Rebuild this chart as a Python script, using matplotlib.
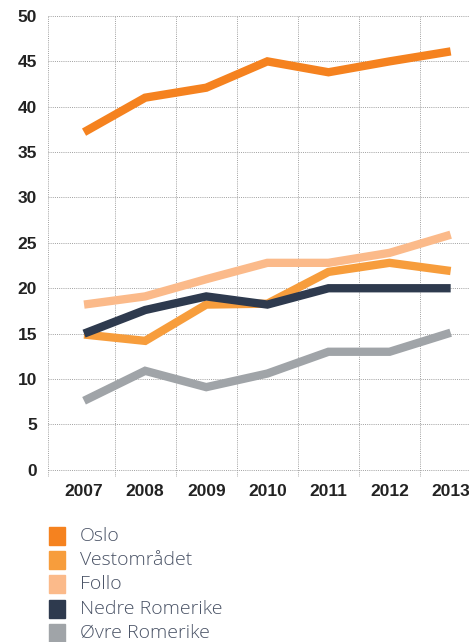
import numpy as np
import matplotlib.pyplot as plt
from matplotlib.patches import Rectangle

years = ["2007", "2008", "2009", "2010", "2011", "2012", "2013"]
names = ["Oslo", "Vestområdet", "Follo", "Nedre Romerike", "Øvre Romerike"]
colors = ["#F5821F", "#F79D3C", "#FBBA8A", "#2E3A4E", "#A0A4A8"]

oslo = [37.2, 41.0, 42.1, 45.0, 43.8, 45.0, 46.1]
vest = [14.9, 14.2, 18.2, 18.3, 21.8, 22.8, 21.9]
follo = [18.2, 19.1, 21.0, 22.8, 22.8, 23.9, 25.9]
nedre = [15.0, 17.6, 19.1, 18.2, 20.0, 20.0, 20.0]
ovre = [7.6, 10.9, 9.1, 10.6, 13.0, 13.0, 15.1]

series = [oslo, vest, follo, nedre, ovre]
draw_order = [4, 2, 1, 3, 0]

W, H = 469, 642
fig = plt.figure(figsize=(W / 100, H / 100), dpi=100)
ax = fig.add_axes([48 / W, (H - 477) / H, 1 - 48 / W, (477 - 16) / H])

x = np.arange(len(years))
for i in draw_order:
    ax.plot(x, series[i], color=colors[i], lw=6, solid_capstyle="butt",
            solid_joinstyle="miter", zorder=3)

ax.set_xlim(-0.59, 6.30)
ax.set_ylim(-0.8, 50)

# dotted grid, vertical lines sit between the years
grid_kw = dict(color="#a0a0a0", lw=0.7, ls=(0, (1, 1.2)), zorder=1)
for yv in range(0, 51, 5):
    ax.axhline(yv, **grid_kw)
for xv in np.append(-0.59, np.arange(0.5, 6, 1.0)):
    ax.axvline(xv, **grid_kw)

for s in ax.spines.values():
    s.set_visible(False)

ax.set_yticks(range(0, 51, 5))
ax.set_xticks(x)
ax.set_xticklabels(years)
ax.tick_params(length=0, labelsize=12.5, colors="#222222")
ax.tick_params(axis="x", pad=5)
ax.tick_params(axis="y", pad=8)
for lab in ax.get_xticklabels() + ax.get_yticklabels():
    lab.set_fontfamily("Liberation Sans")
    lab.set_fontweight("bold")

# legend
for i, (name, c) in enumerate(zip(names, colors)):
    yc = 536 + i * 24.2
    fig.patches.append(Rectangle((49 / W, (H - yc - 9) / H), 16 / W, 18 / H,
                                 transform=fig.transFigure, color=c))
    fig.text(80 / W, (H - yc) / H, name, fontsize=14, color="#4a5366",
             family=["Open Sans", "DejaVu Sans"], weight="light", va="center")

fig.savefig("out.png", dpi=100)
